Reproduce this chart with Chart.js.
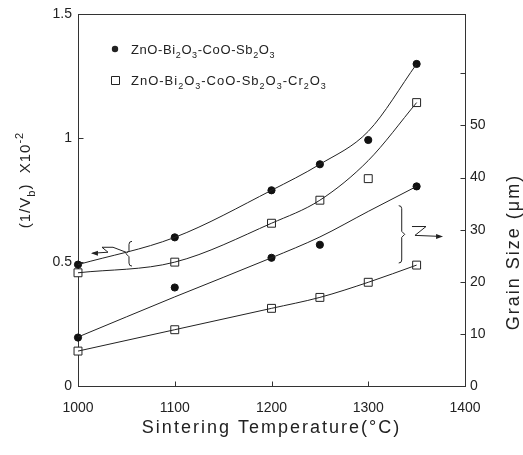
<!DOCTYPE html>
<html>
<head>
<meta charset="utf-8">
<script src="https://cdn.jsdelivr.net/npm/chart.js@4/dist/chart.umd.min.js"></script>
<style>
  body { margin: 0; background: #fff; }
  canvas { display: block; }
</style>
</head>
<body>
<canvas id="chart" width="523" height="455"></canvas>
<script>
// values
const temps = [1000, 1100, 1200, 1250, 1300, 1350];
const grainTemps = [1000, 1100, 1200, 1250, 1350];

// 1/Vb (x10^-2), left axis
const vbPlain = [0.49, 0.60, 0.79, 0.895, 0.993, 1.30];
const vbCr = [0.457, 0.50, 0.657, 0.75, 0.837, 1.144];
// drawn curves (not exactly through the points)
const vbPlainFit = [0.49, 0.60, 0.79, 0.895, 1.028, 1.30];
const vbCrFit = [0.457, 0.50, 0.657, 0.75, 0.91, 1.144];

// grain size (um), right axis
const grainPlain = [9.3, 18.9, 24.6, 27.1, 38.3];
const grainCr = [6.7, 10.8, 14.9, 17.0, 19.9, 23.2];
const grainPlainFit = [9.4, 17.1, 24.6, 28.6, 33.5, 38.3];

const xTicks = [1000, 1100, 1200, 1300, 1400];
const leftTicks = [0, 0.5, 1, 1.5];
const rightTicks = [0, 10, 20, 30, 40, 50];
const rightMinorTop = 60;

const labels = ['ZnO-Bi_2O_3-CoO-Sb_2O_3', 'ZnO-Bi_2O_3-CoO-Sb_2O_3-Cr_2O_3'];

const ink = '#222';
const sans = '"Liberation Sans", Arial, sans-serif';

const pts = (xs, ys) => xs.map((x, i) => ({ x: x, y: ys[i] }));

function richParts(s) {
  const parts = [];
  let i = 0;
  while (i < s.length) {
    if (s[i] === '_') { parts.push({ t: s[i + 1], k: 'sub' }); i += 2; }
    else if (s[i] === '^') {
      const j = s.indexOf('}', i);
      parts.push({ t: s.slice(i + 2, j), k: 'sup' });
      i = j + 1;
    } else {
      let j = i;
      while (j < s.length && s[j] !== '_' && s[j] !== '^') j++;
      parts.push({ t: s.slice(i, j), k: 'n' });
      i = j;
    }
  }
  return parts;
}

// draws text with _x subscripts and ^{..} superscripts, baseline at y
function drawRich(ctx, s, x, y, size, spacing, align) {
  const parts = richParts(s);
  ctx.letterSpacing = spacing + 'px';
  let total = 0;
  parts.forEach(p => {
    ctx.font = (p.k === 'n' ? size : Math.round(size * 0.72)) + 'px ' + sans;
    p.w = ctx.measureText(p.t).width;
    total += p.w;
  });
  let cx = align === 'center' ? x - total / 2 : x;
  ctx.textAlign = 'left';
  ctx.textBaseline = 'alphabetic';
  parts.forEach(p => {
    ctx.font = (p.k === 'n' ? size : Math.round(size * 0.72)) + 'px ' + sans;
    let dy = 0;
    if (p.k === 'sub') dy = size * 0.3;
    if (p.k === 'sup') dy = -size * 0.45;
    ctx.fillText(p.t, cx, y + dy);
    cx += p.w;
  });
  ctx.letterSpacing = '0px';
}

const decor = {
  id: 'decor',
  beforeDatasetsDraw(chart) {
    const { ctx, chartArea: a, scales } = chart;
    const L = Math.round(a.left) + 0.5, R = Math.round(a.right) + 0.5;
    const T = Math.round(a.top) + 0.5, B = Math.round(a.bottom) + 0.5;
    ctx.save();
    ctx.strokeStyle = '#333';
    ctx.lineWidth = 1;
    ctx.strokeRect(L, T, R - L, B - T);
    ctx.beginPath();
    xTicks.slice(1, -1).forEach(v => {
      const px = Math.round(scales.x.getPixelForValue(v)) + 0.5;
      ctx.moveTo(px, B); ctx.lineTo(px, B - 5);
    });
    leftTicks.slice(1, -1).forEach(v => {
      const py = Math.round(scales.y.getPixelForValue(v)) + 0.5;
      ctx.moveTo(L, py); ctx.lineTo(L + 5, py);
    });
    rightTicks.slice(1).concat([rightMinorTop]).forEach(v => {
      const py = Math.round(scales.y2.getPixelForValue(v)) + 0.5;
      ctx.moveTo(R, py); ctx.lineTo(R - 5, py);
    });
    ctx.stroke();
    ctx.restore();
  },
  afterDraw(chart) {
    const { ctx, chartArea: a, scales } = chart;
    const X = v => scales.x.getPixelForValue(v);
    const YL = v => scales.y.getPixelForValue(v);
    const YR = v => scales.y2.getPixelForValue(v);
    ctx.save();
    ctx.fillStyle = ink;
    ctx.strokeStyle = ink;
    ctx.lineWidth = 1;

    // axis titles
    ctx.letterSpacing = '2px';
    ctx.font = '18px ' + sans;
    ctx.textAlign = 'center';
    ctx.textBaseline = 'middle';
    ctx.fillText('Sintering Temperature(°C)', (a.left + a.right) / 2, 428);

    ctx.save();
    ctx.translate(514, 252);
    ctx.rotate(-Math.PI / 2);
    ctx.font = '18px ' + sans;
    ctx.fillText('Grain Size (μm)', 0, 0);
    ctx.restore();
    ctx.letterSpacing = '0px';

    ctx.save();
    ctx.translate(30, 180);
    ctx.rotate(-Math.PI / 2);
    drawRich(ctx, '(1/V_b)  X10^{-2}', 0, 0, 15, 1, 'center');
    ctx.restore();

    // legend
    ctx.beginPath();
    ctx.arc(115, 49, 3.2, 0, Math.PI * 2);
    ctx.fill();
    ctx.beginPath();
    ctx.rect(111.5, 76.5, 8, 8);
    ctx.stroke();
    drawRich(ctx, labels[0], 131, 54, 13, 0.6, 'left');
    drawRich(ctx, labels[1], 131, 85, 13, 1, 'left');

    // left brace and arrow pointing to the 1/Vb axis
    brace(ctx, X(1052.7), YL(0.584), YL(0.484), -1);
    ctx.beginPath();
    ctx.moveTo(X(1049.6), YL(0.54));
    ctx.lineTo(X(1036.2), YL(0.56));
    ctx.lineTo(X(1024.8), YL(0.56));
    ctx.lineTo(X(1031.0), YL(0.54));
    ctx.lineTo(X(1015), YL(0.536));
    ctx.stroke();
    arrowHead(ctx, X(1013.4), YL(0.536), -1);

    // right brace and arrow pointing to the grain size axis
    brace(ctx, X(1334.6), YR(34.6), YR(23.6), 1);
    ctx.beginPath();
    ctx.moveTo(X(1345.2), YR(30.6));
    ctx.lineTo(X(1359.7), YR(30.6));
    ctx.lineTo(X(1348.3), YR(28.9));
    ctx.lineTo(X(1375), YR(28.7));
    ctx.stroke();
    arrowHead(ctx, X(1377.3), YR(28.7), 1);
    ctx.restore();
  }
};

function brace(ctx, x, y0, y1, dir) {
  const m = (y0 + y1) / 2;
  ctx.beginPath();
  ctx.moveTo(x - dir * 3, y0);
  ctx.quadraticCurveTo(x, y0, x, y0 + 3);
  ctx.lineTo(x, m - 3);
  ctx.lineTo(x + dir * 3, m);
  ctx.lineTo(x, m + 3);
  ctx.lineTo(x, y1 - 3);
  ctx.quadraticCurveTo(x, y1, x - dir * 3, y1);
  ctx.stroke();
}

function arrowHead(ctx, x, y, dir) {
  ctx.beginPath();
  ctx.moveTo(x, y);
  ctx.lineTo(x - dir * 7, y - 2.5);
  ctx.lineTo(x - dir * 7, y + 2.5);
  ctx.closePath();
  ctx.fill();
}

const lineSet = (data, axis) => ({
  type: 'line', data: data, yAxisID: axis,
  borderColor: ink, borderWidth: 1, pointRadius: 0,
  cubicInterpolationMode: 'monotone', fill: false, clip: false
});
const dotSet = (data, axis) => ({
  type: 'scatter', data: data, yAxisID: axis,
  pointStyle: 'circle', pointRadius: 3.6, backgroundColor: '#111', borderColor: '#111', clip: false
});
const boxSet = (data, axis) => ({
  type: 'scatter', data: data, yAxisID: axis,
  pointStyle: 'rect', pointRadius: 5.6, backgroundColor: '#fff', borderColor: ink, borderWidth: 1, clip: false
});

const tickFont = { family: sans, size: 14 };

new Chart(document.getElementById('chart').getContext('2d'), {
  type: 'scatter',
  data: {
    datasets: [
      lineSet(pts(temps, vbPlainFit), 'y'),
      lineSet(pts(temps, vbCrFit), 'y'),
      lineSet(pts(temps, grainPlainFit), 'y2'),
      lineSet(pts(temps, grainCr), 'y2'),
      dotSet(pts(temps, vbPlain), 'y'),
      boxSet(pts(temps, vbCr), 'y'),
      dotSet(pts(grainTemps, grainPlain), 'y2'),
      boxSet(pts(temps, grainCr), 'y2')
    ]
  },
  options: {
    responsive: false,
    animation: false,
    layout: { padding: { top: 11 } },
    plugins: { legend: { display: false }, tooltip: { enabled: false } },
    scales: {
      x: {
        type: 'linear', position: 'bottom', min: xTicks[0], max: xTicks[xTicks.length - 1],
        afterBuildTicks: s => { s.ticks = xTicks.map(v => ({ value: v })); },
        ticks: { font: tickFont, color: ink, padding: 14, maxRotation: 0, callback: v => String(v) },
        grid: { display: false, drawTicks: false }, border: { display: false },
        afterFit: s => { s.height = 69; }
      },
      y: {
        type: 'linear', position: 'left', min: 0, max: 1.5,
        afterBuildTicks: s => { s.ticks = leftTicks.map(v => ({ value: v })); },
        ticks: { font: tickFont, color: ink, padding: 6, callback: v => String(v) },
        grid: { display: false, drawTicks: false }, border: { display: false },
        afterFit: s => { s.width = 78; }
      },
      y2: {
        type: 'linear', position: 'right', min: 0, max: 71.3,
        afterBuildTicks: s => { s.ticks = rightTicks.map(v => ({ value: v })); },
        ticks: { font: tickFont, color: ink, padding: 5, callback: v => String(v) },
        grid: { display: false, drawTicks: false }, border: { display: false },
        afterFit: s => { s.width = 58; }
      }
    }
  },
  plugins: [decor]
});
</script>
</body>
</html>
